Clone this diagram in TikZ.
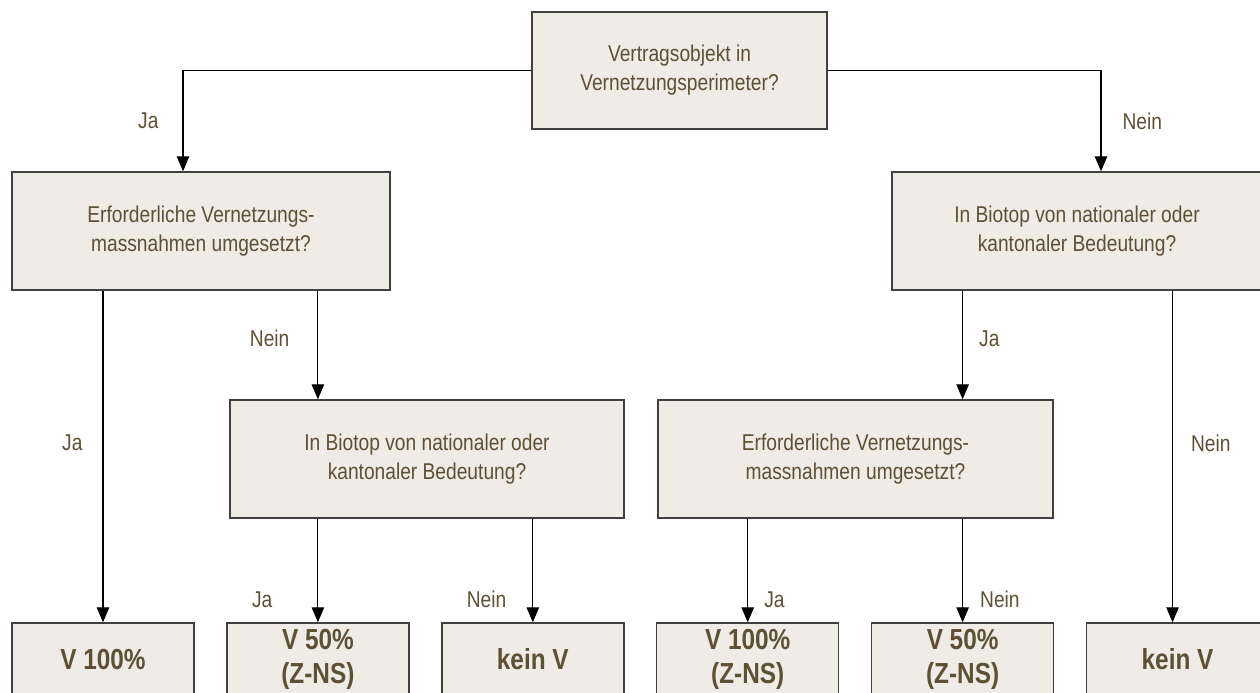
\documentclass[tikz,border=0pt]{standalone}
\usepackage{fontspec}
\setmainfont[FakeStretch=0.84]{Liberation Sans}
\usetikzlibrary{positioning}
\usetikzlibrary{arrows.meta}
\definecolor{boxfill}{HTML}{EFEBE5}
\definecolor{boxtext}{HTML}{5E5035}
\definecolor{boxline}{HTML}{404040}

\tikzset{
  question/.style={draw=boxline, line width=0.8pt, fill=boxfill, text=boxtext, align=center,
    font=\fontsize{13}{16.5}\selectfont, inner sep=0pt, minimum height=2.36cm},
  result/.style={question, minimum width=3.64cm, minimum height=1.46cm,
    font=\bfseries\fontsize{16.5}{19}\selectfont},
  arr/.style={-{Triangle[length=0.3cm,width=0.25cm]}, line width=0.6pt, black},
  lbl/.style={text=boxtext, font=\fontsize{13}{16}\selectfont, inner sep=0pt}
}

\begin{document}
\begin{tikzpicture}

    \useasboundingbox (0,0) rectangle (25.2,-13.86);

    % questions
    \node(Q0)[question, minimum width=5.9cm, minimum height=2.34cm] at (13.59,-1.41) {Vertragsobjekt in\\Vernetzungsperimeter?};
    \node(Q1)[question, minimum width=7.56cm] at (4.02,-4.62) {Erforderliche Vernetzungs-\\massnahmen umgesetzt?};
    \node(Q2)[question, minimum width=7.4cm] at (21.54,-4.62) {In Biotop von nationaler oder\\kantonaler Bedeutung?};
    \node(Q3)[question, minimum width=7.88cm] at (8.54,-9.18) {In Biotop von nationaler oder\\kantonaler Bedeutung?};
    \node(Q4)[question, minimum width=7.9cm] at (17.11,-9.18) {Erforderliche Vernetzungs-\\massnahmen umgesetzt?};

    % results
    \node(R1)[result] at (2.06,-13.19) {V 100\%};
    \node(R2)[result, right=0.63cm of R1] {V 50\%\\(Z-NS)};
    \node(R3)[result, right=0.63cm of R2] {kein V};
    \node(R4)[result, right=0.63cm of R3] {V 100\%\\(Z-NS)};
    \node(R5)[result, right=0.63cm of R4] {V 50\%\\(Z-NS)};
    \node(R6)[result, right=0.63cm of R5] {kein V};
    \coordinate(R6in) at ([xshift=-0.1cm]R6.north);

    \draw[arr] (Q0.west) -| ([xshift=-0.36cm]Q1.north) node[lbl, pos=0.75, left=0.48cm] {Ja};
    \draw[arr] (Q0.east) -| ([xshift=0.48cm]Q2.north) node[lbl, pos=0.75, right=0.42cm] {Nein};

    \draw[arr] (Q1.south -| R1) -- node[lbl, pos=0.46, left=0.4cm] {Ja} (R1.north);
    \draw[arr] (Q1.south -| R2) -- node[lbl, pos=0.44, left=0.56cm] {Nein} (Q3.north -| R2);
    \draw[arr] (Q3.south -| R2) -- node[lbl, pos=0.78, left=0.9cm] {Ja} (R2.north);
    \draw[arr] (Q3.south -| R3) -- node[lbl, pos=0.78, left=0.52cm] {Nein} (R3.north);

    \draw[arr] (Q2.south -| R5) -- node[lbl, pos=0.44, right=0.32cm] {Ja} (Q4.north -| R5);
    \draw[arr] (Q2.south -| R6in) -- node[lbl, pos=0.46, right=0.36cm] {Nein} (R6in);
    \draw[arr] (Q4.south -| R4) -- node[lbl, pos=0.78, right=0.32cm] {Ja} (R4.north);
    \draw[arr] (Q4.south -| R5) -- node[lbl, pos=0.78, right=0.34cm] {Nein} (R5.north);

\end{tikzpicture}
\end{document}
